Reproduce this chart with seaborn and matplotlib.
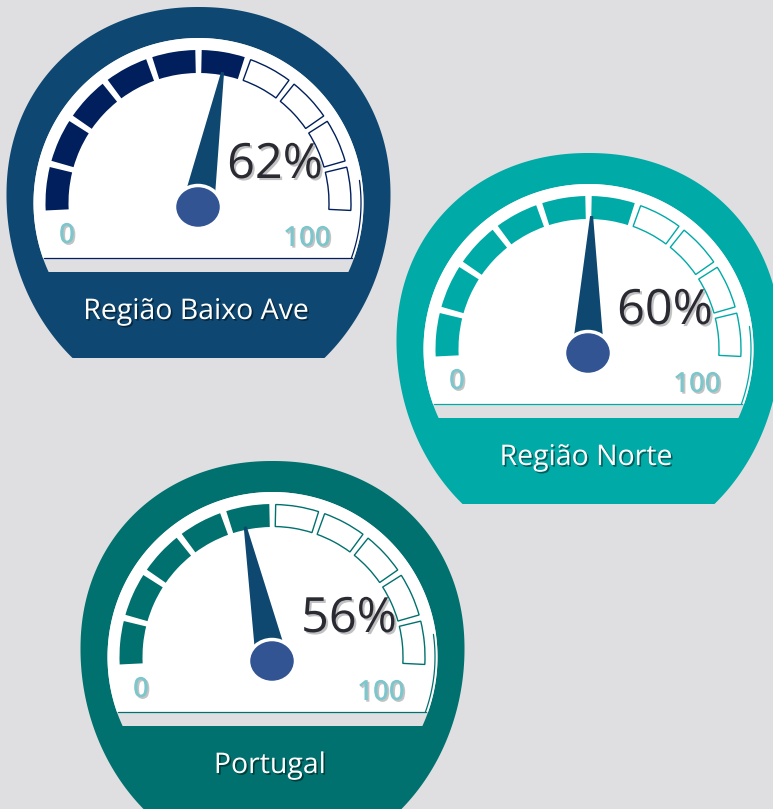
import numpy as np
import matplotlib
matplotlib.use("Agg")
import matplotlib.pyplot as plt
import seaborn as sns
from matplotlib.patches import Polygon, Wedge, Ellipse
import matplotlib.patheffects as pe

# ---------------- data ----------------
regions = ["Região Baixo Ave", "Região Norte", "Portugal"]
values = [62, 60, 56]                    # percentage shown
needle_readings = [55.5, 50.8, 44.0]     # where the needle points on the 0-100 dial
scale_labels = ["0", "100"]
n_segments = 10

outer_colors = ["#0E4872", "#00AAA7", "#00716E"]
segment_colors = ["#001F5C", "#00AAA7", "#00716E"]
pivots = [(198, 207), (588, 353), (272, 661)]

BG = "#DFDFE1"
NEEDLE = "#0E4770"
PIVOT = "#335493"

sns.set_style("white")
plt.rcParams["font.family"] = ["Open Sans", "DejaVu Sans"]

W, H = 773, 809
fig = plt.figure(figsize=(W / 100, H / 100), dpi=100)
fig.patch.set_facecolor(BG)
ax = fig.add_axes([0, 0, 1, 1])
ax.set_xlim(0, W)
ax.set_ylim(H, 0)
ax.axis("off")
ax.set_facecolor(BG)


def superellipse(cx, cy, a, b_top, b_bot, n_top, n_bot, cut):
    t = np.linspace(0, 2 * np.pi, 1441)
    c, s = np.cos(t), np.sin(t)
    n = np.where(s < 0, n_top, n_bot)
    b = np.where(s < 0, b_top, b_bot)
    x = cx + a * np.sign(c) * np.abs(c) ** (2 / n)
    y = cy + b * np.sign(s) * np.abs(s) ** (2 / n)
    y = np.minimum(y, cut)
    return np.column_stack([x, y])


start, span, gap = 184.0, 188.0, 2.4
step = span / n_segments

for k, (px, py) in enumerate(pivots):
    col = outer_colors[k]
    scol = segment_colors[k]
    # outer body
    ax.add_patch(Polygon(superellipse(px + 0.5, py - 12, 192, 188, 216, 2.1, 2.0, py + 151),
                         closed=True, fc=col, ec="none", zorder=1))
    # face
    fcx, fcy, R = px + 0.5, py - 4, 165
    ax.add_patch(Polygon(superellipse(fcx, fcy, R, R, R, 2, 2, py + 65),
                         closed=True, fc=BG, ec="none", zorder=2))
    ax.add_patch(Polygon(superellipse(fcx, fcy, R, R, R, 2, 2, py + 51),
                         closed=True, fc="white", ec="none", zorder=3))
    xb = np.sqrt(R ** 2 - (py + 51 - fcy) ** 2)
    ax.plot([fcx - xb + 1, fcx + xb - 2], [py + 50.5, py + 50.5], color=scol, lw=0.9, zorder=4)
    ang = np.linspace(np.radians(8), -np.arcsin((py + 51 - fcy) / 162.5), 60)
    ax.plot(fcx + 162.5 * np.cos(ang), fcy - 162.5 * np.sin(ang), color=scol, lw=0.9, zorder=4)

    # segments
    filled = int(values[k] // 10)
    for i in range(n_segments):
        p1 = start - i * step - gap / 2
        p2 = start - (i + 1) * step + gap / 2
        if i < filled:
            w = Wedge((fcx, fcy), 153, -p1, -p2, width=23, fc=scol, ec="none", zorder=5)
        else:
            w = Wedge((fcx, fcy), 152.5, -p1, -p2, width=22, fc="white", ec=scol, lw=1.0, zorder=5)
        ax.add_patch(w)

    # needle
    phi = np.radians(start - needle_readings[k] / 100 * span)
    u = np.array([np.cos(phi), -np.sin(phi)])
    v = np.array([np.sin(phi), np.cos(phi)])
    P = np.array([px, py], dtype=float)
    base = P + 16 * u
    tip = P + 137 * u
    ax.add_patch(Polygon([base + 14.5 * v, tip + 1.5 * v, tip - 1.5 * v, base - 14.5 * v],
                         closed=True, fc=NEEDLE, ec="none", zorder=6))
    ax.add_patch(Ellipse((px, py), 47, 43, fc=PIVOT, ec="white", lw=2.5, zorder=7))

    # texts
    ax.text(px + 77, py - 29, f"{values[k]}%", fontsize=35, color="#2A2A33",
            ha="center", va="baseline", zorder=8,
            path_effects=[pe.withSimplePatchShadow(offset=(1.5, -1.5), shadow_rgbFace="#777777", alpha=0.45)])
    ax.text(px - 131, py + 36, scale_labels[0], fontsize=20, fontweight="semibold", color="#7CC6CC",
            ha="center", va="baseline", zorder=8,
            path_effects=[pe.withSimplePatchShadow(offset=(1.2, -1.2), shadow_rgbFace="#888888", alpha=0.5)])
    ax.text(px + 109, py + 39, scale_labels[1], fontsize=20, fontweight="semibold", color="#7CC6CC",
            ha="center", va="baseline", zorder=8,
            path_effects=[pe.withSimplePatchShadow(offset=(1.2, -1.2), shadow_rgbFace="#888888", alpha=0.5)])
    ax.text(px - 2, py + 112, regions[k], fontsize=20.5, color="white",
            ha="center", va="baseline", zorder=8,
            path_effects=[pe.withSimplePatchShadow(offset=(1.2, -1.2), shadow_rgbFace="#000000", alpha=0.45)])

fig.savefig("out.png", dpi=100, facecolor=BG)
